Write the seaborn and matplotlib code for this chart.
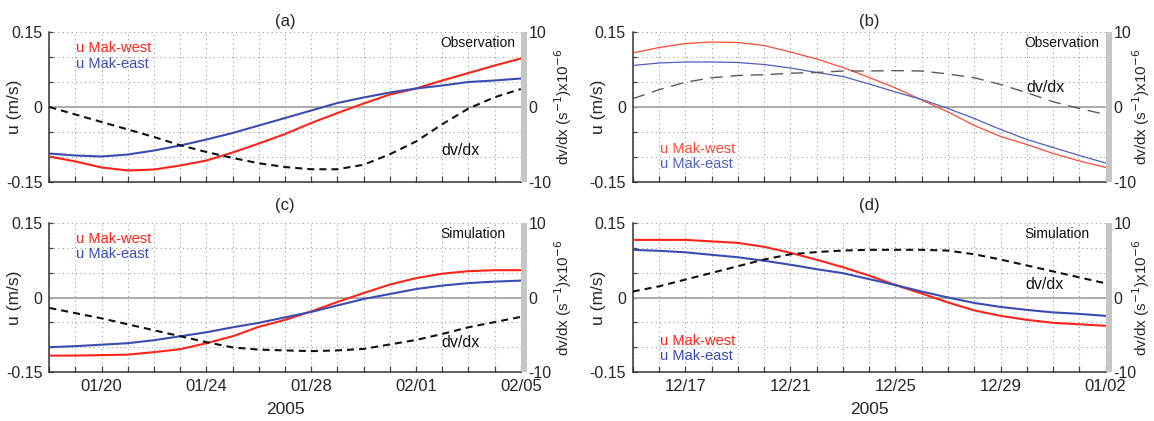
import pandas as pd
import matplotlib
matplotlib.use("Agg")
import matplotlib.pyplot as plt
import matplotlib.dates as mdates
import matplotlib.ticker as mticker
from matplotlib.patches import Rectangle
import seaborn as sns

# ---- daily series -------------------------------------------------------
jan_start = "2005-01-18"   # panels (a) and (c)
dec_start = "2004-12-15"   # panels (b) and (d)
n_days = 19

# (a) observation, Jan-Feb 2005
a_west = [-0.099, -0.109, -0.121, -0.127, -0.125, -0.117, -0.107, -0.091, -0.073, -0.054,
          -0.032, -0.012, 0.007, 0.025, 0.037, 0.053, 0.068, 0.083, 0.097]
a_east = [-0.093, -0.097, -0.099, -0.095, -0.087, -0.077, -0.065, -0.052, -0.037, -0.022,
          -0.007, 0.008, 0.019, 0.029, 0.037, 0.043, 0.050, 0.053, 0.057]
a_dvdx = [0.0, -1.0, -2.0, -3.0, -4.0, -5.1, -6.0, -6.8, -7.5, -8.0,
          -8.3, -8.3, -7.7, -6.3, -4.6, -2.3, -0.2, 1.3, 2.4]

# (b) observation, Dec 2004
b_west = [0.108, 0.119, 0.127, 0.130, 0.129, 0.123, 0.110, 0.096, 0.079, 0.059,
          0.038, 0.014, -0.010, -0.037, -0.059, -0.075, -0.093, -0.108, -0.121]
b_east = [0.083, 0.088, 0.090, 0.090, 0.089, 0.085, 0.078, 0.069, 0.061, 0.046,
          0.030, 0.015, -0.003, -0.023, -0.045, -0.065, -0.081, -0.097, -0.112]
b_dvdx = [1.1, 2.3, 3.3, 3.9, 4.2, 4.3, 4.5, 4.6, 4.8, 4.8,
          4.85, 4.8, 4.4, 3.9, 3.0, 1.9, 0.7, -0.2, -1.0]

# (c) simulation, Jan-Feb 2005
c_west = [-0.117, -0.117, -0.116, -0.115, -0.110, -0.104, -0.092, -0.078, -0.059, -0.045,
          -0.028, -0.009, 0.009, 0.026, 0.039, 0.048, 0.053, 0.055, 0.055]
c_east = [-0.100, -0.098, -0.095, -0.092, -0.086, -0.078, -0.070, -0.060, -0.051, -0.040,
          -0.029, -0.016, -0.003, 0.007, 0.017, 0.024, 0.029, 0.032, 0.034]
c_dvdx = [-1.4, -2.1, -2.8, -3.6, -4.4, -5.2, -6.0, -6.7, -7.0, -7.1,
          -7.2, -7.1, -6.9, -6.3, -5.7, -4.9, -4.0, -3.3, -2.6]

# (d) simulation, Dec 2004
d_west = [0.116, 0.116, 0.116, 0.113, 0.110, 0.102, 0.090, 0.076, 0.061, 0.044,
          0.025, 0.008, -0.010, -0.026, -0.037, -0.045, -0.051, -0.054, -0.057]
d_east = [0.096, 0.094, 0.091, 0.086, 0.081, 0.074, 0.066, 0.057, 0.049, 0.037,
          0.025, 0.012, 0.000, -0.011, -0.019, -0.025, -0.030, -0.033, -0.037]
d_dvdx = [0.8, 1.5, 2.4, 3.3, 4.2, 5.1, 5.8, 6.1, 6.3, 6.4,
          6.4, 6.4, 6.3, 5.8, 5.1, 4.3, 3.5, 2.7, 1.9]

# ---- axis ticks ---------------------------------------------------------
jan_ticks = ["2005-01-20", "2005-01-24", "2005-01-28", "2005-02-01", "2005-02-05"]
dec_ticks = ["2004-12-17", "2004-12-21", "2004-12-25", "2004-12-29", "2005-01-02"]
u_ticks = [-0.15, 0.0, 0.15]
u_ticklabels = ["-0.15", "0", "0.15"]
dv_ticks = [-10, 0, 10]
dv_ticklabels = ["-10", "0", "10"]
year_label = "2005"

# ---- style --------------------------------------------------------------
sns.set_theme(style="white")
plt.rcParams["font.family"] = ["Liberation Sans", "DejaVu Sans"]
plt.rcParams["axes.unicode_minus"] = False

fig = plt.figure(figsize=(11.54, 4.21), dpi=100)

grid_kw = dict(color="#9c9c9c", linestyle=(0, (1, 3)), linewidth=0.8)


def draw_panel(rect, start, ticks, west, east, dvdx, title, tag, legend_y, dv_xy,
               thin=False, show_dates=False, title_pad=4, right_lab_x=1.066):
    ax = fig.add_axes(rect)
    dates = pd.date_range(start, periods=n_days, freq="D")
    df = pd.DataFrame({"date": dates, "west": west, "east": east, "dvdx": dvdx})

    if thin:
        west_c, east_c, lw = "#ff4a36", "#4f5fc0", 0.9
        dv_c, dv_ls, dv_lw = "#5a5a5a", (0, (9, 5.5)), 1.0
    else:
        west_c, east_c, lw = "#ff2418", "#3a4cb2", 1.5
        dv_c, dv_ls, dv_lw = "#111111", (0, (3.4, 2.4)), 1.5

    ax.axhline(0, color="#a6a6a6", lw=1.3, zorder=1)
    sns.lineplot(data=df, x="date", y="west", color=west_c, lw=lw, ax=ax, zorder=3)
    sns.lineplot(data=df, x="date", y="east", color=east_c, lw=lw, ax=ax, zorder=3)

    ax.set_xlim(dates[0], dates[-1])
    ax.set_ylim(-0.15, 0.15)
    ax.xaxis.set_major_locator(mticker.FixedLocator(mdates.date2num(pd.to_datetime(ticks))))
    ax.xaxis.set_minor_locator(mdates.DayLocator())
    ax.xaxis.set_major_formatter(mdates.DateFormatter("%m/%d"))
    ax.set_yticks(u_ticks, u_ticklabels)
    ax.yaxis.set_minor_locator(mticker.MultipleLocator(0.05))
    ax.grid(True, which="both", **grid_kw)
    ax.set_axisbelow(True)

    ax.tick_params(axis="x", which="both", direction="in", length=4, width=0.9,
                   color="#444444", labelsize=12, pad=5, bottom=True, top=False,
                   labelbottom=show_dates)
    ax.tick_params(axis="y", which="both", direction="in", length=3, width=0.9,
                   color="#444444", labelsize=11.5, pad=5, left=True, right=False)
    for side in ("top", "right"):
        ax.spines[side].set_visible(False)
    for side in ("left", "bottom"):
        ax.spines[side].set_color("#333333")
        ax.spines[side].set_linewidth(1.1)

    ax.set_ylabel("u (m/s)", fontsize=12.5)
    ax.yaxis.set_label_coords(-0.057, 0.5)
    if show_dates:
        ax.set_xlabel(year_label, fontsize=12.5, labelpad=6)
    else:
        ax.set_xlabel("")
    ax.set_title(title, fontsize=12, pad=title_pad)

    # shaded strip along the right-hand axis
    ax.add_patch(Rectangle((1.0, 0.0), 0.0125, 1.0, transform=ax.transAxes,
                           facecolor="#c6c6c6", edgecolor="none", clip_on=False, zorder=6))

    ax2 = ax.twinx()
    sns.lineplot(data=df, x="date", y="dvdx", color=dv_c, lw=dv_lw, linestyle=dv_ls,
                 ax=ax2, zorder=4)
    ax2.set_xlim(dates[0], dates[-1])
    ax2.set_ylim(-10, 10)
    ax2.set_yticks(dv_ticks, dv_ticklabels)
    ax2.tick_params(axis="y", length=0, labelsize=11.5, pad=5.5)
    ax2.grid(False)
    for s in ax2.spines.values():
        s.set_visible(False)
    ax2.set_ylabel(r"dv/dx (s$^{-1}$)x10$^{-6}$", fontsize=11)
    ax2.yaxis.set_label_coords(right_lab_x, 0.5)
    ax2.set_xlabel("")

    # annotations
    ax.text(0.057, legend_y[0], "u Mak-west", color=west_c, fontsize=10.5,
            transform=ax.transAxes, va="center", ha="left")
    ax.text(0.057, legend_y[1], "u Mak-east", color=east_c, fontsize=10.5,
            transform=ax.transAxes, va="center", ha="left")
    ax.text(0.829, 0.927, tag, fontsize=10, transform=ax.transAxes,
            va="center", ha="left", color="#111111", zorder=7)
    ax.text(dv_xy[0], dv_xy[1], "dv/dx", fontsize=11.5, transform=ax.transAxes,
            va="center", ha="left", color="#111111")
    return ax


W, H = 1154.0, 421.0
left_a, width_a = 49.3 / W, 471.5 / W
left_b, width_b = 632.7 / W, 473.0 / W
top_b, top_h = 1 - 182 / H, 150 / H
bot_b, bot_h = 1 - 372 / H, 149 / H

draw_panel([left_a, top_b, width_a, top_h], jan_start, jan_ticks, a_west, a_east, a_dvdx,
           "(a)", "Observation", (0.893, 0.789), (0.832, 0.213), title_pad=4)
draw_panel([left_b, top_b, width_b, top_h], dec_start, dec_ticks, b_west, b_east, b_dvdx,
           "(b)", "Observation", (0.222, 0.12), (0.832, 0.633), thin=True, title_pad=4,
           right_lab_x=1.051)
draw_panel([left_a, bot_b, width_a, bot_h], jan_start, jan_ticks, c_west, c_east, c_dvdx,
           "(c)", "Simulation", (0.895, 0.792), (0.832, 0.195), show_dates=True, title_pad=9)
draw_panel([left_b, bot_b, width_b, bot_h], dec_start, dec_ticks, d_west, d_east, d_dvdx,
           "(d)", "Simulation", (0.21, 0.107), (0.83, 0.59), show_dates=True, title_pad=9,
           right_lab_x=1.051)

fig.savefig("out.png", dpi=100)
